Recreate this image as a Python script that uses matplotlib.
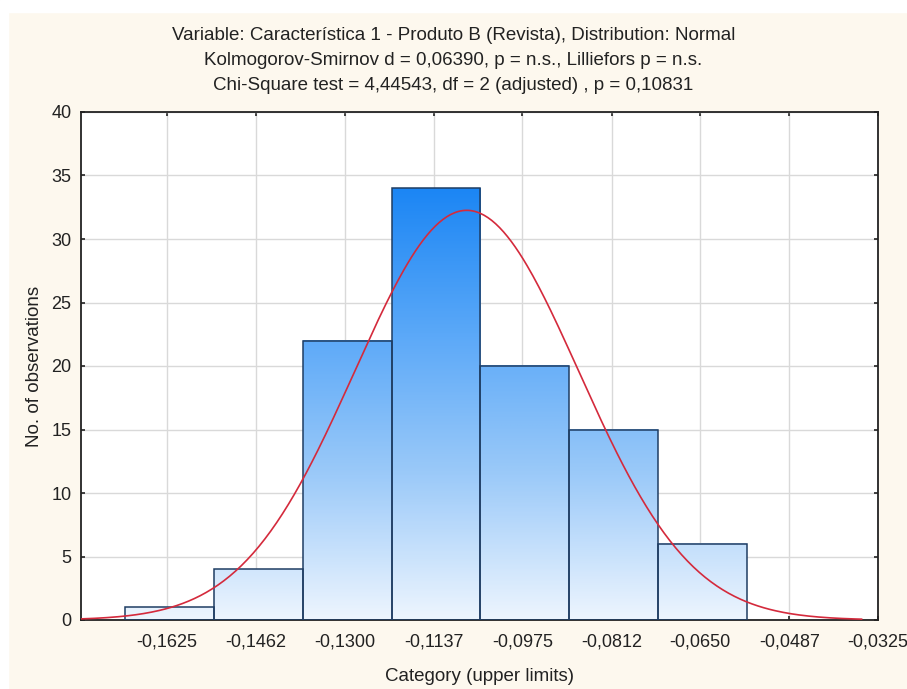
import numpy as np
import matplotlib
matplotlib.use("Agg")
import matplotlib.pyplot as plt
from matplotlib.colors import LinearSegmentedColormap

# ---- data ----
counts = [1, 4, 22, 34, 20, 15, 6]
bin_edges = [-0.17018, -0.15393, -0.13768, -0.12143, -0.10518, -0.08893, -0.07268, -0.05643]
tick_values = [-0.1625, -0.1462, -0.1300, -0.1137, -0.0975, -0.0812, -0.0650, -0.0487, -0.0325]
tick_labels = ["-0,1625", "-0,1462", "-0,1300", "-0,1137", "-0,0975", "-0,0812", "-0,0650", "-0,0487", "-0,0325"]
y_ticks = [0, 5, 10, 15, 20, 25, 30, 35, 40]
fit_mean = -0.1077
fit_sd = 0.0205
title_lines = [
    "Variable: Característica 1 - Produto B (Revista), Distribution: Normal",
    "Kolmogorov-Smirnov d = 0,06390, p = n.s., Lilliefors p = n.s.",
    "Chi-Square test = 4,44543, df = 2 (adjusted) , p = 0,10831",
]
x_label = "Category (upper limits)"
y_label = "No. of observations"

plt.rcParams['font.family'] = ['Liberation Sans', 'DejaVu Sans']

bg = "#fdf8ee"
W, H = 907, 689
fig = plt.figure(figsize=(W/100, H/100), dpi=100, facecolor=bg)
# white margins at top and left
fig.patches.append(plt.Rectangle((0, 1-12/H), 1, 12/H, transform=fig.transFigure, color="white", zorder=0))
fig.patches.append(plt.Rectangle((0, 0), 8/W, 1, transform=fig.transFigure, color="white", zorder=0))

ax = fig.add_axes([81/W, 1-620/H, (878-81)/W, (620-112)/H])
ax.set_facecolor("white")

xmin, xmax = -0.17822, -0.0325
ymax = 40

cmap = LinearSegmentedColormap.from_list("g", ["#edf5fe", "#9ccaf9", "#5aa8f8", "#1c86f4"])
gmax = max(counts)
for i, c in enumerate(counts):
    x0, x1 = bin_edges[i], bin_edges[i+1]
    yy = np.linspace(0, c, 200)[:, None] / gmax
    ax.imshow(yy, extent=[x0, x1, 0, c], origin="lower", cmap=cmap, vmin=0, vmax=1,
              aspect="auto", zorder=2, interpolation="bilinear")
    ax.add_patch(plt.Rectangle((x0, 0), x1-x0, c, fill=False, edgecolor="#1f3d63", lw=1.1, zorder=3))

ax.set_aspect("auto")
ax.set_xlim(xmin, xmax)
ax.set_ylim(0, ymax)

N = sum(counts)
w = bin_edges[1] - bin_edges[0]
xs = np.linspace(xmin, -0.0355, 400)
ys = N * w / (fit_sd*np.sqrt(2*np.pi)) * np.exp(-0.5*((xs-fit_mean)/fit_sd)**2)
ax.plot(xs, ys, color="#d42a3c", lw=1.2, zorder=4)

ax.set_xticks(tick_values)
ax.set_xticklabels(tick_labels)
ax.set_yticks(y_ticks)
ax.grid(True, color="#d9d9d9", lw=1, zorder=0)
ax.set_axisbelow(True)
ax.tick_params(direction="in", length=3, width=1.2, top=True, right=True, labelsize=13, colors="#222222")
ax.tick_params(axis="x", pad=10)
ax.tick_params(axis="y", pad=7)
for s in ax.spines.values():
    s.set_linewidth(1.3)
    s.set_color("#222222")

ax.set_xlabel(x_label, fontsize=13.5, labelpad=12, color="#222222")
ax.set_ylabel(y_label, fontsize=13.5, labelpad=6, color="#222222")

for k, line in enumerate(title_lines):
    fig.text(0.5, 1-(36+24.5*k)/H, line, ha="center", va="center", fontsize=13.5, color="#222222")

fig.savefig("out.png", dpi=100, facecolor=bg)
